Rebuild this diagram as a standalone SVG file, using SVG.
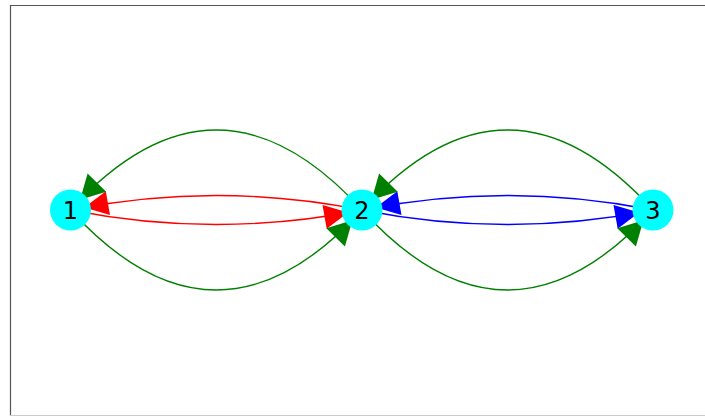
<svg xmlns="http://www.w3.org/2000/svg" width="705" height="416" viewBox="0 0 705 416">
<style>
.e{fill:none;stroke-width:1.4}
.g{stroke:#008000}.gf{fill:#008000}
.r{stroke:#ff0000}.rf{fill:#ff0000}
.b{stroke:#0000ff}.bf{fill:#0000ff}
.n{fill:#00ffff}
.t{font-family:"DejaVu Sans",sans-serif;font-size:24px;text-anchor:middle;fill:#000}
</style>
<rect width="705" height="416" fill="#fff"/>
<path d="M10.5,416 V5.5 H705" fill="none" stroke="#555" stroke-width="1.2"/>
<path d="M10,415.5 H705" fill="none" stroke="#ccc" stroke-width="1"/>
<g id="edges">
<path class="e r" d="M362,210 Q216.25,181 70.5,210"/>
<path class="e r" d="M70.5,210 Q216.25,239 362,210"/>
<path class="e b" d="M653,210 Q507.5,181 362,210"/>
<path class="e b" d="M362,210 Q507.5,239 653,210"/>
<path class="e g" d="M362,210 Q216.25,50 70.5,210"/>
<path class="e g" d="M70.5,210 Q216.25,370 362,210"/>
<path class="e g" d="M653,210 Q507.5,50 362,210"/>
<path class="e g" d="M362,210 Q507.5,370 653,210"/>
<polygon class="rf" points="84.3,207.4 110,214.9 105.8,191.3"/>
<polygon class="rf" points="348.2,212.6 322.5,205.1 326.7,228.7"/>
<polygon class="bf" points="375.8,207.4 401.5,214.9 397.3,191.3"/>
<polygon class="bf" points="639.2,212.6 613.5,205.1 617.7,228.7"/>
<polygon class="gf" points="80.1,199.8 106.2,191.7 87.6,173.5"/>
<polygon class="gf" points="352.4,220.2 326.3,228.3 344.9,246.5"/>
<polygon class="gf" points="371.6,199.8 397.7,191.7 379.1,173.5"/>
<polygon class="gf" points="643.4,220.2 617.3,228.3 635.9,246.5"/>
</g>
<g id="node1"><circle class="n" cx="70.5" cy="210" r="20.5"/><text class="t" x="70.5" y="218.7">1</text></g>
<g id="node2"><circle class="n" cx="362" cy="210" r="20.5"/><text class="t" x="362" y="218.7">2</text></g>
<g id="node3"><circle class="n" cx="653" cy="210" r="20.5"/><text class="t" x="653" y="218.7">3</text></g>
</svg>
